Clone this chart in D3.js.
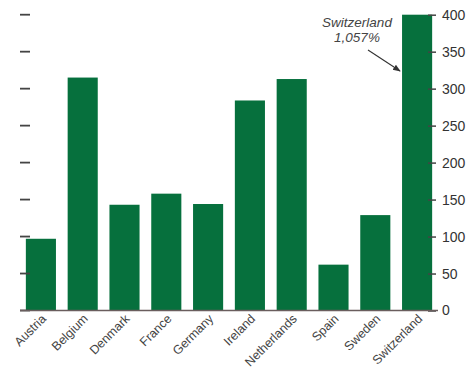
<!DOCTYPE html>
<html><head><meta charset="utf-8">
<script src="https://cdn.jsdelivr.net/npm/d3@7/dist/d3.min.js"></script>
<style>body{margin:0;background:#fff}svg{display:block}</style>
</head><body>
<script>
const categories = ["Austria","Belgium","Denmark","France","Germany","Ireland","Netherlands","Spain","Sweden","Switzerland"];
const values = [97, 315, 143, 158, 144, 284, 313, 62, 129, 1057];
const yTicks = [0, 50, 100, 150, 200, 250, 300, 350, 400];
const annotationLines = ["Switzerland", "1,057%"];

const W = 468, H = 369;
const svg = d3.select("body").append("svg").attr("width", W).attr("height", H);
const defs = svg.append("defs");
defs.append("marker").attr("id","ah").attr("viewBox","0 0 10 10").attr("refX",9).attr("refY",5)
  .attr("markerWidth",7).attr("markerHeight",7).attr("orient","auto")
  .append("path").attr("d","M0,1 L10,5 L0,9 Z").attr("fill","#333");

const x = d3.scaleBand().domain(categories).range([20, 438]).paddingInner(0.28).paddingOuter(0.14);
const y = d3.scaleLinear().domain([0, 400]).range([310.5, 14.7]).clamp(true);
const green = "#06703d";

// bars
svg.append("g").selectAll("rect").data(categories).join("rect")
  .attr("x", d => x(d)).attr("width", x.bandwidth())
  .attr("y", (d,i) => y(values[i])).attr("height", (d,i) => y(0) - y(values[i]))
  .attr("fill", green);

// left tick marks (no labels)
svg.append("g").selectAll("line").data(yTicks).join("line")
  .attr("x1", 20).attr("x2", 30).attr("y1", d => y(d)).attr("y2", d => y(d))
  .attr("stroke", "#444").attr("stroke-width", 1.8);

// right axis
const ra = svg.append("g").attr("transform", "translate(428,0)")
  .call(d3.axisRight(y).tickValues(yTicks).tickSize(8).tickPadding(6).tickFormat(d3.format("d")));
ra.select(".domain").remove();
ra.selectAll(".tick line").attr("stroke", "#444").attr("stroke-width", 1.5);
ra.selectAll(".tick text").attr("fill", "#333").style("font", "14px 'Liberation Sans', Arial, sans-serif");

// baseline
svg.append("line").attr("x1", 20).attr("x2", 438).attr("y1", y(0)).attr("y2", y(0))
  .attr("stroke", "#6a5e5e").attr("stroke-width", 1.6);

// category labels
svg.append("g").selectAll("text").data(categories).join("text")
  .attr("transform", d => `translate(${x(d) + x.bandwidth()/2 + 6},${y(0) + 9}) rotate(-45)`)
  .attr("text-anchor", "end").attr("fill", "#444")
  .style("font", "12.5px 'Liberation Sans', Arial, sans-serif")
  .text(d => d);

// annotation
const ann = svg.append("text").attr("text-anchor", "middle").attr("fill", "#444")
  .style("font", "italic 13.5px 'Liberation Sans', Arial, sans-serif");
ann.selectAll("tspan").data(annotationLines).join("tspan")
  .attr("x", 357).attr("y", (d,i) => 27 + i*15).text(d => d);
const last = categories[categories.length - 1];
svg.append("line").attr("x1", 368).attr("y1", 50).attr("x2", x(last) - 2).attr("y2", 71)
  .attr("stroke", "#333").attr("stroke-width", 1.1).attr("marker-end", "url(#ah)");
</script>
</body></html>
